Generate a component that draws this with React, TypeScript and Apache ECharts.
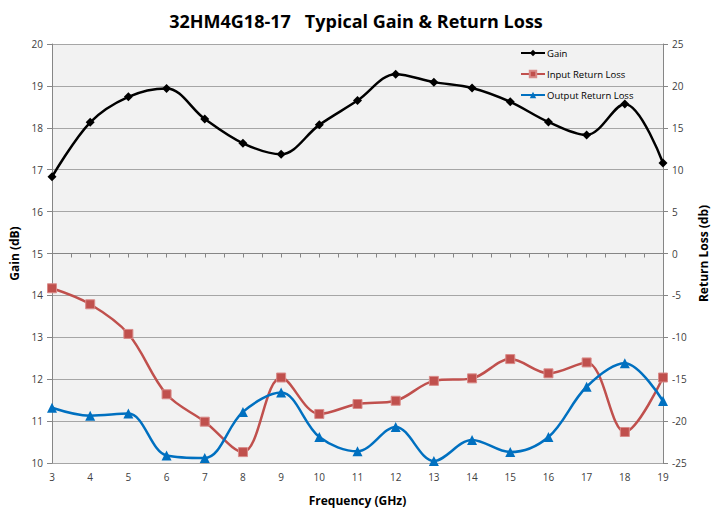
import React, { useEffect, useRef } from "react";
import * as echarts from "echarts";

const freqs = [3, 4, 5, 6, 7, 8, 9, 10, 11, 12, 13, 14, 15, 16, 17, 18, 19];
const gain = [16.83, 18.13, 18.74, 18.94, 18.21, 17.63, 17.37, 18.07, 18.65, 19.28, 19.09, 18.95, 18.62, 18.14, 17.83, 18.57, 17.16];
const inputRL = [-4.15, -6.06, -9.6, -16.8, -20.07, -23.7, -14.8, -19.15, -17.96, -17.57, -15.2, -14.9, -12.6, -14.3, -13.0, -21.3, -14.8];
const outputRL = [-18.4, -19.35, -19.1, -24.1, -24.4, -18.9, -16.6, -21.9, -23.6, -20.7, -24.76, -22.25, -23.7, -21.9, -15.9, -13.1, -17.6];

const FONT = "'Open Sans', 'Noto Sans', sans-serif";
const TXT = "#404040";

export default function App() {
  const ref = useRef<HTMLDivElement>(null);
  useEffect(() => {
    document.body.style.margin = "0";
    const chart = echarts.init(ref.current!, null, { renderer: "svg" });
    const pairs = (arr: number[]) => freqs.map((f, i) => [f, arr[i]]);
    chart.setOption({
      animation: false,
      backgroundColor: "#ffffff",
      textStyle: { fontFamily: FONT },
      title: {
        text: "32HM4G18-17   Typical Gain & Return Loss",
        left: "center",
        top: 7,
        textStyle: { fontFamily: FONT, fontSize: 18, fontWeight: "bold", color: "#000" },
      },
      legend: {
        orient: "vertical",
        left: 515,
        top: 43,
        itemWidth: 24,
        itemHeight: 8,
        itemGap: 11,
        textStyle: { fontFamily: FONT, fontSize: 9.5, color: "#000", padding: [0, 0, 0, -3] },
        data: ["Gain", "Input Return Loss", "Output Return Loss"],
      },
      grid: {
        left: 52,
        right: 49,
        top: 44,
        bottom: 47,
        outerBoundsMode: "none",
        containLabel: false,
        show: true,
        backgroundColor: "#f2f2f2",
        borderWidth: 0,
      },
      xAxis: {
        type: "value",
        min: 3,
        max: 19,
        interval: 1,
        name: "Frequency (GHz)",
        nameLocation: "middle",
        nameGap: 31,
        nameTextStyle: { fontFamily: FONT, fontSize: 12, fontWeight: "bold", color: "#000" },
        axisLine: { show: true, lineStyle: { color: "#868686", width: 1 } },
        axisTick: { show: true, length: 4, lineStyle: { color: "#868686" } },
        minorTick: { show: true, splitNumber: 2, length: 4, lineStyle: { color: "#868686" } },
        splitLine: { show: false },
        axisLabel: { fontFamily: FONT, fontSize: 10, color: TXT, margin: 9 },
      },
      yAxis: [
        {
          type: "value",
          min: 10,
          max: 20,
          interval: 1,
          position: "left",
          name: "Gain (dB)",
          nameLocation: "middle",
          nameGap: 31,
          nameRotate: 90,
          nameTextStyle: { fontFamily: FONT, fontSize: 12, fontWeight: "bold", color: "#000" },
          axisLine: { show: true, lineStyle: { color: "#868686", width: 1 } },
          axisTick: { show: true, length: 5, lineStyle: { color: "#868686" } },
          splitLine: { show: true, lineStyle: { color: "#a6a6a6", width: 1 } },
          axisLabel: { fontFamily: FONT, fontSize: 10, color: TXT, margin: 9 },
        },
        {
          type: "value",
          min: -25,
          max: 25,
          interval: 5,
          position: "right",
          name: "Return Loss (db)",
          nameLocation: "middle",
          nameGap: 34,
          nameRotate: 90,
          nameTextStyle: { fontFamily: FONT, fontSize: 12, fontWeight: "bold", color: "#000" },
          axisLine: { show: true, lineStyle: { color: "#868686", width: 1 } },
          axisTick: { show: true, length: 5, lineStyle: { color: "#868686" } },
          splitLine: { show: false },
          axisLabel: { fontFamily: FONT, fontSize: 10, color: TXT, margin: 9 },
        },
      ],
      series: [
        {
          name: "Gain",
          type: "line",
          yAxisIndex: 0,
          data: pairs(gain),
          smooth: 0.35,
          symbol: "diamond",
          symbolSize: 9,
          lineStyle: { color: "#000000", width: 2.5 },
          itemStyle: { color: "#000000" },
        },
        {
          name: "Input Return Loss",
          type: "line",
          yAxisIndex: 1,
          data: pairs(inputRL),
          smooth: 0.35,
          symbol: "rect",
          symbolSize: 9,
          lineStyle: { color: "#c0504d", width: 2.5 },
          itemStyle: { color: "#c0504d", borderColor: "#d98b89", borderWidth: 1 },
        },
        {
          name: "Output Return Loss",
          type: "line",
          yAxisIndex: 1,
          data: pairs(outputRL),
          smooth: 0.35,
          symbol: "triangle",
          symbolSize: 10,
          lineStyle: { color: "#0070c0", width: 2.5 },
          itemStyle: { color: "#0070c0" },
        },
      ],
    });
    return () => chart.dispose();
  }, []);
  return <div ref={ref} style={{ width: 712, height: 510 }} />;
}
